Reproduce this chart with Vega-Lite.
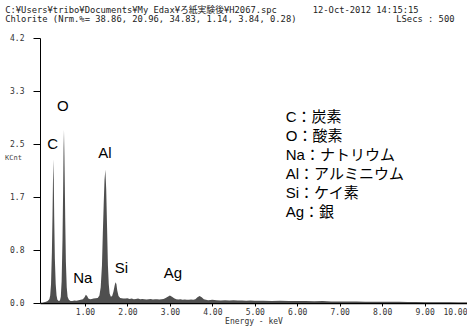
{
  "$schema": "https://vega.github.io/schema/vega-lite/v6.json",
  "width": 427,
  "height": 265,
  "autosize": "none",
  "padding": {"left": 40, "top": 38, "right": 0, "bottom": 24},
  "background": "white",
  "config": {"view": {"stroke": null}},
  "datasets": {
    "spectrum": [
      {"e": -0.06, "c": 0}, {"e": 0.0, "c": 0.0}, {"e": 0.04, "c": 0.01}, {"e": 0.08, "c": 0.02}, {"e": 0.12, "c": 0.03},
      {"e": 0.16, "c": 0.06}, {"e": 0.18, "c": 0.12}, {"e": 0.2, "c": 0.3}, {"e": 0.22, "c": 0.8}, {"e": 0.235, "c": 1.4},
      {"e": 0.245, "c": 1.9}, {"e": 0.255, "c": 2.28}, {"e": 0.265, "c": 1.95}, {"e": 0.275, "c": 1.35}, {"e": 0.29, "c": 0.7},
      {"e": 0.31, "c": 0.3}, {"e": 0.33, "c": 0.12}, {"e": 0.35, "c": 0.05}, {"e": 0.38, "c": 0.03}, {"e": 0.41, "c": 0.04},
      {"e": 0.43, "c": 0.1}, {"e": 0.45, "c": 0.35}, {"e": 0.47, "c": 1.0}, {"e": 0.485, "c": 1.8}, {"e": 0.495, "c": 2.45},
      {"e": 0.505, "c": 2.74}, {"e": 0.515, "c": 2.35}, {"e": 0.525, "c": 1.85}, {"e": 0.535, "c": 1.3}, {"e": 0.55, "c": 0.65},
      {"e": 0.57, "c": 0.25}, {"e": 0.59, "c": 0.1}, {"e": 0.62, "c": 0.05}, {"e": 0.66, "c": 0.03}, {"e": 0.7, "c": 0.03},
      {"e": 0.75, "c": 0.04}, {"e": 0.8, "c": 0.035}, {"e": 0.85, "c": 0.045}, {"e": 0.9, "c": 0.05}, {"e": 0.95, "c": 0.06},
      {"e": 0.99, "c": 0.09}, {"e": 1.02, "c": 0.13}, {"e": 1.05, "c": 0.11}, {"e": 1.08, "c": 0.07}, {"e": 1.12, "c": 0.06},
      {"e": 1.16, "c": 0.065}, {"e": 1.2, "c": 0.07}, {"e": 1.25, "c": 0.075}, {"e": 1.3, "c": 0.08}, {"e": 1.34, "c": 0.12},
      {"e": 1.37, "c": 0.25}, {"e": 1.4, "c": 0.6}, {"e": 1.42, "c": 1.1}, {"e": 1.44, "c": 1.55}, {"e": 1.46, "c": 1.95},
      {"e": 1.48, "c": 2.11}, {"e": 1.5, "c": 1.8}, {"e": 1.52, "c": 1.2}, {"e": 1.54, "c": 0.6}, {"e": 1.56, "c": 0.3},
      {"e": 1.58, "c": 0.15}, {"e": 1.61, "c": 0.1}, {"e": 1.64, "c": 0.11}, {"e": 1.67, "c": 0.18}, {"e": 1.7, "c": 0.28},
      {"e": 1.72, "c": 0.33}, {"e": 1.74, "c": 0.3}, {"e": 1.76, "c": 0.2}, {"e": 1.79, "c": 0.11}, {"e": 1.83, "c": 0.08},
      {"e": 1.9, "c": 0.07}, {"e": 1.95, "c": 0.07}, {"e": 2.0, "c": 0.075}, {"e": 2.05, "c": 0.065}, {"e": 2.1, "c": 0.07},
      {"e": 2.15, "c": 0.06}, {"e": 2.2, "c": 0.065}, {"e": 2.25, "c": 0.07}, {"e": 2.3, "c": 0.06}, {"e": 2.35, "c": 0.065},
      {"e": 2.4, "c": 0.06}, {"e": 2.45, "c": 0.055}, {"e": 2.5, "c": 0.06}, {"e": 2.55, "c": 0.065}, {"e": 2.6, "c": 0.055},
      {"e": 2.65, "c": 0.06}, {"e": 2.7, "c": 0.06}, {"e": 2.75, "c": 0.055}, {"e": 2.8, "c": 0.06}, {"e": 2.85, "c": 0.065},
      {"e": 2.9, "c": 0.08}, {"e": 2.95, "c": 0.1}, {"e": 3.0, "c": 0.12}, {"e": 3.05, "c": 0.1}, {"e": 3.1, "c": 0.075},
      {"e": 3.15, "c": 0.06}, {"e": 3.2, "c": 0.055}, {"e": 3.25, "c": 0.06}, {"e": 3.3, "c": 0.05}, {"e": 3.35, "c": 0.055},
      {"e": 3.4, "c": 0.05}, {"e": 3.45, "c": 0.05}, {"e": 3.5, "c": 0.055}, {"e": 3.55, "c": 0.05}, {"e": 3.6, "c": 0.06},
      {"e": 3.65, "c": 0.09}, {"e": 3.7, "c": 0.11}, {"e": 3.75, "c": 0.09}, {"e": 3.8, "c": 0.06}, {"e": 3.85, "c": 0.05},
      {"e": 3.9, "c": 0.045}, {"e": 4.0, "c": 0.05}, {"e": 4.1, "c": 0.045}, {"e": 4.2, "c": 0.04}, {"e": 4.3, "c": 0.045},
      {"e": 4.4, "c": 0.04}, {"e": 4.5, "c": 0.045}, {"e": 4.6, "c": 0.04}, {"e": 4.7, "c": 0.04}, {"e": 4.8, "c": 0.035},
      {"e": 4.9, "c": 0.04}, {"e": 5.0, "c": 0.035}, {"e": 5.2, "c": 0.035}, {"e": 5.4, "c": 0.03}, {"e": 5.6, "c": 0.035},
      {"e": 5.8, "c": 0.03}, {"e": 6.0, "c": 0.03}, {"e": 6.2, "c": 0.03}, {"e": 6.4, "c": 0.028}, {"e": 6.6, "c": 0.03},
      {"e": 6.8, "c": 0.025}, {"e": 7.0, "c": 0.025}, {"e": 7.2, "c": 0.025}, {"e": 7.4, "c": 0.022}, {"e": 7.6, "c": 0.02},
      {"e": 7.8, "c": 0.02}, {"e": 8.0, "c": 0.02}, {"e": 8.2, "c": 0.018}, {"e": 8.4, "c": 0.018}, {"e": 8.6, "c": 0.015},
      {"e": 8.8, "c": 0.015}, {"e": 9.0, "c": 0.012}, {"e": 9.2, "c": 0.012}, {"e": 9.4, "c": 0.01}, {"e": 9.6, "c": 0.01},
      {"e": 9.8, "c": 0.008}, {"e": 10.0, "c": 0.008}
    ],
    "peaks": [
      {"label": "C", "e": 0.24, "c": 2.52},
      {"label": "O", "e": 0.48, "c": 3.12},
      {"label": "Al", "e": 1.47, "c": 2.38},
      {"label": "Si", "e": 1.86, "c": 0.55},
      {"label": "Na", "e": 0.95, "c": 0.4},
      {"label": "Ag", "e": 3.07, "c": 0.48}
    ],
    "legend": [
      {"t": "C：炭素", "e": 5.729, "c": 2.948},
      {"t": "O：酸素", "e": 5.729, "c": 2.647},
      {"t": "Na：ナトリウム", "e": 5.729, "c": 2.345},
      {"t": "Al：アルミニウム", "e": 5.729, "c": 2.044},
      {"t": "Si：ケイ素", "e": 5.729, "c": 1.743},
      {"t": "Ag：銀", "e": 5.729, "c": 1.442}
    ],
    "headLeft": [
      {"t": "C:¥Users¥tribo¥Documents¥My Edax¥ろ紙実験後¥H2067.spc", "e": -0.88, "c": 4.643},
      {"t": "12-Oct-2012 14:15:15", "e": 6.365, "c": 4.643},
      {"t": "Chlorite (Nrm.%= 38.86, 20.96, 34.83, 1.14, 3.84, 0.28)", "e": -0.88, "c": 4.5}
    ],
    "headRight": [
      {"t": "LSecs : 500", "e": 9.706, "c": 4.5}
    ]
  },
  "layer": [
    {
      "data": {"name": "spectrum"},
      "mark": {"type": "area", "color": "#4f4f4f", "clip": true},
      "encoding": {
        "x": {
          "field": "e", "type": "quantitative",
          "scale": {"domain": [-0.06, 10], "nice": false, "zero": false},
          "axis": {
            "values": [1, 2, 3, 4, 5, 6, 7, 8, 9, 10],
            "format": ".2f",
            "grid": false,
            "domainColor": "#000000",
            "domainWidth": 1.5,
            "tickColor": "#000000",
            "tickSize": 3,
            "labelFont": "DejaVu Sans Mono",
            "labelFontSize": 8,
            "labelColor": "#333333",
            "labelPadding": 2,
            "title": "Energy - keV",
            "titleFont": "DejaVu Sans Mono",
            "titleFontSize": 8,
            "titleFontWeight": "normal",
            "titleColor": "#333333",
            "titlePadding": 1
          }
        },
        "y": {
          "field": "c", "type": "quantitative",
          "scale": {"domain": [0, 4.2], "nice": false},
          "axis": {
            "values": [0, 0.84, 1.68, 2.52, 3.36, 4.2],
            "labelExpr": "datum.value > 3 && datum.value < 4 ? '3.3' : format(datum.value, '.1f')",
            "grid": false,
            "domainColor": "#000000",
            "domainWidth": 1,
            "tickColor": "#000000",
            "tickSize": 7,
            "labelFont": "DejaVu Sans Mono",
            "labelFontSize": 8,
            "labelColor": "#333333",
            "labelPadding": 9,
            "title": "KCnt",
            "titleAngle": 0,
            "titleX": -27,
            "titleY": 119,
            "titleAlign": "center",
            "titleBaseline": "middle",
            "titleFont": "DejaVu Sans Mono",
            "titleFontSize": 7,
            "titleFontWeight": "normal",
            "titleColor": "#444444"
          }
        }
      }
    },
    {
      "data": {"name": "peaks"},
      "mark": {"type": "text", "font": "Liberation Sans", "fontSize": 15, "color": "#000000", "align": "center", "baseline": "middle"},
      "encoding": {
        "x": {"field": "e", "type": "quantitative"},
        "y": {"field": "c", "type": "quantitative"},
        "text": {"field": "label"}
      }
    },
    {
      "data": {"name": "legend"},
      "mark": {"type": "text", "font": "Liberation Sans, Noto Sans CJK JP", "fontSize": 15, "color": "#000000", "align": "left", "baseline": "middle"},
      "encoding": {
        "x": {"field": "e", "type": "quantitative"},
        "y": {"field": "c", "type": "quantitative"},
        "text": {"field": "t"}
      }
    },
    {
      "data": {"name": "headLeft"},
      "mark": {"type": "text", "font": "DejaVu Sans Mono, Noto Sans CJK JP", "fontSize": 8.8, "color": "#222222", "align": "left", "baseline": "middle"},
      "encoding": {
        "x": {"field": "e", "type": "quantitative"},
        "y": {"field": "c", "type": "quantitative"},
        "text": {"field": "t"}
      }
    },
    {
      "data": {"name": "headRight"},
      "mark": {"type": "text", "font": "DejaVu Sans Mono", "fontSize": 8.8, "color": "#222222", "align": "right", "baseline": "middle"},
      "encoding": {
        "x": {"field": "e", "type": "quantitative"},
        "y": {"field": "c", "type": "quantitative"},
        "text": {"field": "t"}
      }
    }
  ]
}
